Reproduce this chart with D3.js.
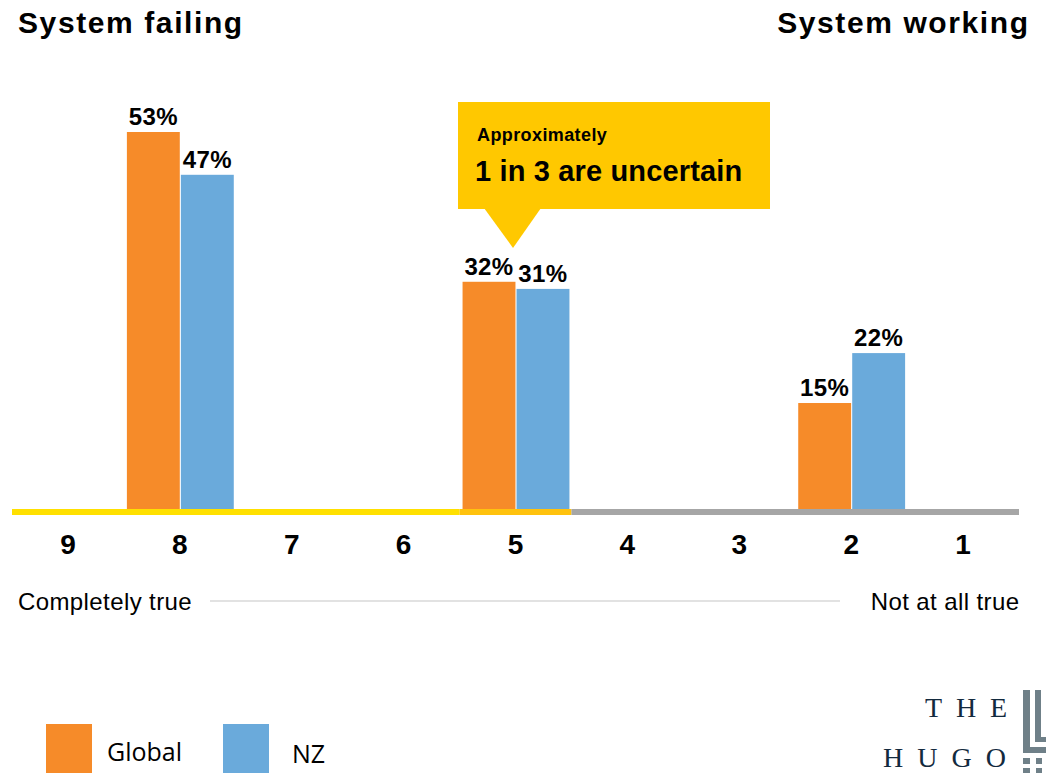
<!DOCTYPE html>
<html><head><meta charset="utf-8">
<script src="https://cdn.jsdelivr.net/npm/d3@7"></script>
<style>
html,body{margin:0;padding:0;background:#fff;}
svg{display:block;}
</style></head>
<body>
<svg id="chart" width="1046" height="773"></svg>
<script>
const categories = ["9","8","7","6","5","4","3","2","1"];
const seriesNames = ["Global","NZ"];
const globalValues = [null,53,null,null,32,null,null,15,null];
const nzValues = [null,47,null,null,31,null,null,22,null];
const seriesColors = ["#F68B29","#6AAADB"];
const axisSegments = [
  {from:"9", to:"6", color:"#FFE000"},
  {from:"5", to:"5", color:"#FFC20E"},
  {from:"4", to:"1", color:"#A6A6A6"}
];

const svg = d3.select("#chart");
const font = "'Liberation Sans', Arial, Helvetica, sans-serif";
const baseY = 510;

const x0 = d3.scaleBand().domain(categories).range([12,1019]).padding(0);
const x1 = d3.scaleBand().domain(seriesNames).range([3, x0.bandwidth()-2]).paddingInner(0.02);
const y = d3.scaleLinear().domain([0,53]).range([baseY,132]);

const rows = categories.map((c,i)=>({cat:c, vals:[globalValues[i], nzValues[i]]}));

// Bars
const g = svg.append("g");
rows.forEach(r=>{
  r.vals.forEach((v,j)=>{
    if(v==null) return;
    const bx = x0(r.cat)+x1(seriesNames[j]);
    g.append("rect").attr("x",bx).attr("y",y(v)).attr("width",x1.bandwidth()).attr("height",baseY-y(v)).attr("fill",seriesColors[j]);
    g.append("text").attr("x",bx+x1.bandwidth()/2).attr("y",y(v)-7).attr("text-anchor","middle")
      .attr("font-family",font).attr("font-weight","bold").attr("font-size",24).attr("letter-spacing",0.4).attr("fill","#000").text(v+"%");
  });
});

// Axis line segments
axisSegments.forEach(s=>{
  const xa = s.from==="9" ? x0.range()[0] : x0(s.from);
  const xb = s.to==="1" ? x0.range()[1] : x0(s.to)+x0.bandwidth();
  svg.append("rect").attr("x",xa).attr("y",baseY-1).attr("width",xb-xa).attr("height",6).attr("fill",s.color);
});

// Category labels
const xAxis = d3.axisBottom(x0).tickSize(0).tickPadding(0);
const ax = svg.append("g").attr("transform",`translate(0,${baseY})`).call(xAxis);
ax.select(".domain").remove();
ax.selectAll("text").attr("y",44).attr("dy",null).attr("font-family",font)
  .attr("font-weight","bold").attr("font-size",28).attr("fill","#000");

// Scale labels
svg.append("text").attr("x",18).attr("y",610).attr("font-family",font).attr("font-size",24).attr("letter-spacing",0.4).attr("fill","#000").text("Completely true");
svg.append("text").attr("x",1019.4).attr("y",610).attr("text-anchor","end").attr("font-family",font).attr("font-size",24).attr("letter-spacing",0.4).attr("fill","#000").text("Not at all true");
svg.append("line").attr("x1",210).attr("x2",840).attr("y1",601).attr("y2",601).attr("stroke","#D9D9D9").attr("stroke-width",1.5);

// Titles
svg.append("text").attr("x",18).attr("y",33).attr("font-family",font).attr("font-weight","bold").attr("font-size",30).attr("letter-spacing",1.6).attr("fill","#000").text("System failing");
svg.append("text").attr("x",1029.6).attr("y",33).attr("text-anchor","end").attr("font-family",font).attr("font-weight","bold").attr("font-size",30).attr("letter-spacing",1.6).attr("fill","#000").text("System working");

// Callout
const cg = svg.append("g");
cg.append("rect").attr("x",458).attr("y",102).attr("width",312).attr("height",107).attr("fill","#FFC800");
cg.append("path").attr("d","M484,208 L541,208 L513,248 Z").attr("fill","#FFC800");
cg.append("text").attr("x",477).attr("y",141).attr("font-family",font).attr("font-weight","bold").attr("font-size",18).attr("letter-spacing",0.4).attr("fill","#000").text("Approximately");
cg.append("text").attr("x",475).attr("y",181).attr("font-family",font).attr("font-weight","bold").attr("font-size",29).attr("letter-spacing",0.15).attr("fill","#000").text("1 in 3 are uncertain");

// Legend
const legX = [46,223], legTX = [107,292];
seriesNames.forEach((n,i)=>{
  svg.append("rect").attr("x",legX[i]).attr("y",724).attr("width",46).attr("height",49).attr("fill",seriesColors[i]);
  svg.append("text").attr("x",legTX[i]).attr("y",i===0?761:763).attr("font-family","'Open Sans','Noto Sans',sans-serif").attr("font-size",25).attr("fill","#000").text(n);
});

// Logo
svg.append("text").attr("x",925).attr("y",717).attr("font-family","'Liberation Serif','DejaVu Serif',serif").attr("font-size",28)
  .attr("textLength",82).attr("lengthAdjust","spacing").attr("fill","#132a3e").text("THE");
svg.append("text").attr("x",883).attr("y",767).attr("font-family","'Liberation Serif','DejaVu Serif',serif").attr("font-size",28)
  .attr("textLength",123).attr("lengthAdjust","spacing").attr("fill","#132a3e").text("HUGO");
const lg = svg.append("g").attr("fill","#6F8088");
lg.append("rect").attr("x",1023).attr("y",690).attr("width",7).attr("height",63);
lg.append("rect").attr("x",1023).attr("y",747).attr("width",23).attr("height",6);
lg.append("rect").attr("x",1035).attr("y",690).attr("width",6).attr("height",52);
lg.append("rect").attr("x",1035).attr("y",737).attr("width",11).attr("height",5);
lg.append("rect").attr("x",1023).attr("y",758).attr("width",7).attr("height",6);
lg.append("rect").attr("x",1023).attr("y",768).attr("width",7).attr("height",5);
lg.append("rect").attr("x",1036).attr("y",758).attr("width",6).attr("height",6);
lg.append("rect").attr("x",1036).attr("y",768).attr("width",6).attr("height",5);
</script>
</body></html>
